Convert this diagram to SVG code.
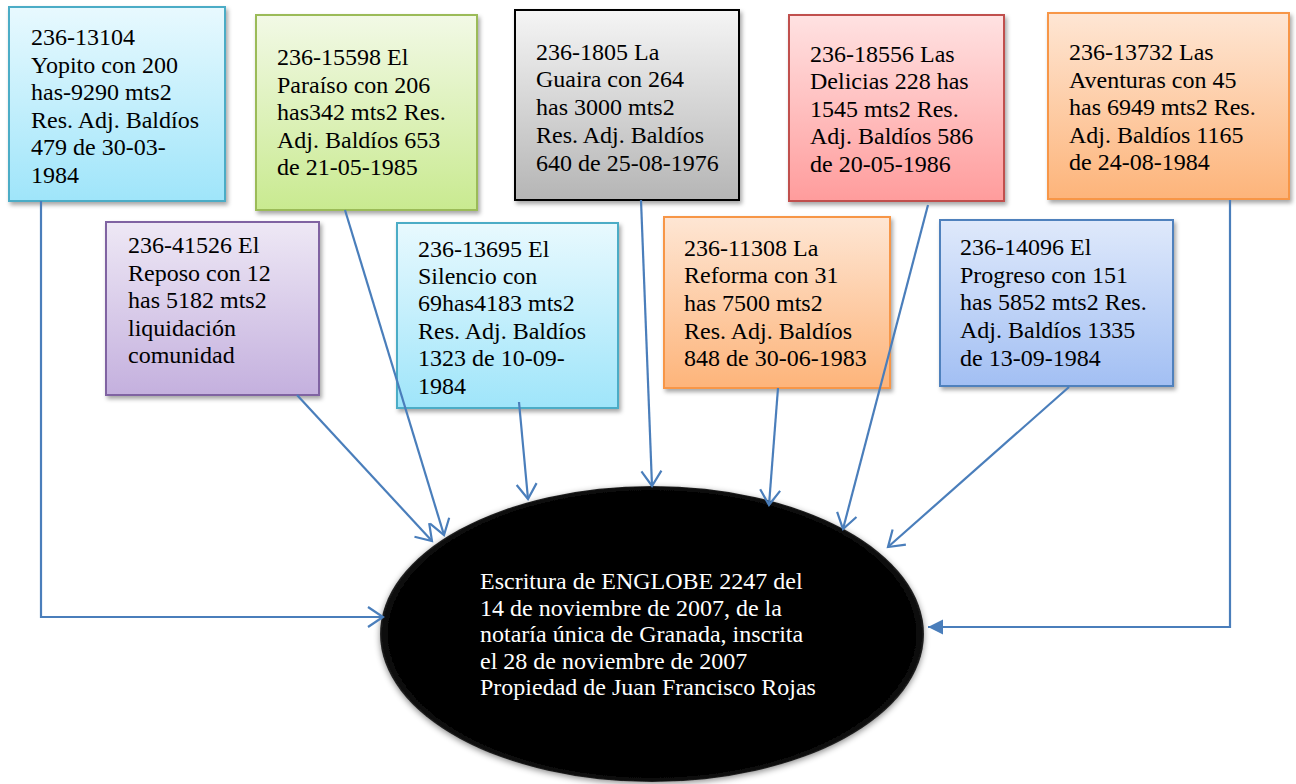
<svg xmlns="http://www.w3.org/2000/svg" width="1296" height="784" viewBox="0 0 1296 784">
<style>
.box{stroke-width:2}
.t{font-family:"Liberation Serif","Times New Roman",serif;font-size:24px;fill:#000}
.te{font-family:"Liberation Serif","Times New Roman",serif;font-size:24px;fill:#fff}
.c{fill:none;stroke:#4a7ebb;stroke-width:2.2}
</style>
<defs>
<filter id="sh" x="-10%" y="-10%" width="130%" height="130%">
<feDropShadow dx="2" dy="3" stdDeviation="2" flood-color="#000" flood-opacity="0.35"/>
</filter>
<filter id="esh" x="-10%" y="-10%" width="120%" height="120%">
<feDropShadow dx="0" dy="2" stdDeviation="3" flood-color="#000" flood-opacity="0.45"/>
</filter>
<linearGradient id="gCyan" x1="0" y1="0" x2="0" y2="1"><stop offset="0" stop-color="#e8f9fe"/><stop offset="1" stop-color="#9fe5fa"/></linearGradient>
<linearGradient id="gGreen" x1="0" y1="0" x2="0" y2="1"><stop offset="0" stop-color="#f2f9e6"/><stop offset="1" stop-color="#c9ea90"/></linearGradient>
<linearGradient id="gGray" x1="0" y1="0" x2="0" y2="1"><stop offset="0" stop-color="#f5f5f5"/><stop offset="1" stop-color="#b5b5b5"/></linearGradient>
<linearGradient id="gRed" x1="0" y1="0" x2="0" y2="1"><stop offset="0" stop-color="#ffe2e2"/><stop offset="1" stop-color="#ff9c9c"/></linearGradient>
<linearGradient id="gOrange" x1="0" y1="0" x2="0" y2="1"><stop offset="0" stop-color="#fee6d4"/><stop offset="1" stop-color="#fdb47a"/></linearGradient>
<linearGradient id="gPurple" x1="0" y1="0" x2="0" y2="1"><stop offset="0" stop-color="#eee8f5"/><stop offset="1" stop-color="#c4b0de"/></linearGradient>
<linearGradient id="gBlue" x1="0" y1="0" x2="0" y2="1"><stop offset="0" stop-color="#dfe9fb"/><stop offset="1" stop-color="#a2bff3"/></linearGradient>
<radialGradient id="gBlack" cx="0.5" cy="0.5" r="0.5"><stop offset="0.95" stop-color="#000"/><stop offset="0.99" stop-color="#0c0c0c"/><stop offset="1" stop-color="#262626"/></radialGradient>
<marker id="open" markerUnits="userSpaceOnUse" markerWidth="20" markerHeight="24" viewBox="-17 -12 20 24" refX="0" refY="0" orient="auto">
<path d="M-15,-10 L0,0 L-15,10" fill="none" stroke="#4a7ebb" stroke-width="2.2"/>
</marker>
<marker id="fill" markerUnits="userSpaceOnUse" markerWidth="20" markerHeight="20" viewBox="-16 -10 20 20" refX="0" refY="0" orient="auto">
<path d="M-15,-7.5 L0,0 L-15,7.5 Z" fill="#4a7ebb"/>
</marker>
</defs>
<rect width="1296" height="784" fill="#fff"/>

<g id="n-yopito">
<rect class="box" x="9" y="7" width="216" height="194" fill="url(#gCyan)" stroke="#4bacc6" filter="url(#sh)"/>
<text class="t" x="31" y="45"><tspan x="31">236-13104</tspan><tspan x="31" dy="27.5">Yopito con 200</tspan><tspan x="31" dy="27.5">has-9290 mts2</tspan><tspan x="31" dy="27.5">Res. Adj. Baldíos</tspan><tspan x="31" dy="27.5">479 de 30-03-</tspan><tspan x="31" dy="27.5">1984</tspan></text>
</g>
<g id="n-paraiso">
<rect class="box" x="256" y="15" width="221" height="195" fill="url(#gGreen)" stroke="#9bbb59" filter="url(#sh)"/>
<text class="t" x="277" y="65"><tspan x="277">236-15598 El</tspan><tspan x="277" dy="27.6">Paraíso con 206</tspan><tspan x="277" dy="27.6">has342 mts2 Res.</tspan><tspan x="277" dy="27.6">Adj. Baldíos 653</tspan><tspan x="277" dy="27.6">de 21-05-1985</tspan></text>
</g>
<g id="n-guaira">
<rect class="box" x="515" y="10" width="224" height="190" fill="url(#gGray)" stroke="#000" filter="url(#sh)"/>
<text class="t" x="536" y="59.5"><tspan x="536">236-1805 La</tspan><tspan x="536" dy="27.8">Guaira con 264</tspan><tspan x="536" dy="27.8">has 3000 mts2</tspan><tspan x="536" dy="27.8">Res. Adj. Baldíos</tspan><tspan x="536" dy="27.8">640 de 25-08-1976</tspan></text>
</g>
<g id="n-delicias">
<rect class="box" x="789" y="15" width="215" height="186" fill="url(#gRed)" stroke="#c0504d" filter="url(#sh)"/>
<text class="t" x="810" y="61.5"><tspan x="810">236-18556 Las</tspan><tspan x="810" dy="27.5">Delicias 228 has</tspan><tspan x="810" dy="27.5">1545 mts2 Res.</tspan><tspan x="810" dy="27.5">Adj. Baldíos 586</tspan><tspan x="810" dy="27.5">de 20-05-1986</tspan></text>
</g>
<g id="n-aventuras">
<rect class="box" x="1048" y="13" width="241" height="186" fill="url(#gOrange)" stroke="#f79646" filter="url(#sh)"/>
<text class="t" x="1069" y="60"><tspan x="1069">236-13732 Las</tspan><tspan x="1069" dy="27.6">Aventuras con 45</tspan><tspan x="1069" dy="27.6">has 6949 mts2 Res.</tspan><tspan x="1069" dy="27.6">Adj. Baldíos 1165</tspan><tspan x="1069" dy="27.6">de 24-08-1984</tspan></text>
</g>
<g id="n-reposo">
<rect class="box" x="106" y="222" width="213" height="173" fill="url(#gPurple)" stroke="#8064a2" filter="url(#sh)"/>
<text class="t" x="128" y="253"><tspan x="128">236-41526 El</tspan><tspan x="128" dy="27.6">Reposo con 12</tspan><tspan x="128" dy="27.6">has 5182 mts2</tspan><tspan x="128" dy="27.6">liquidación</tspan><tspan x="128" dy="27.6">comunidad</tspan></text>
</g>
<g id="n-silencio">
<rect class="box" x="397" y="223" width="221" height="185" fill="url(#gCyan)" stroke="#4bacc6" filter="url(#sh)"/>
<text class="t" x="418" y="256.5"><tspan x="418">236-13695 El</tspan><tspan x="418" dy="27.4">Silencio con</tspan><tspan x="418" dy="27.4">69has4183 mts2</tspan><tspan x="418" dy="27.4">Res. Adj. Baldíos</tspan><tspan x="418" dy="27.4">1323 de 10-09-</tspan><tspan x="418" dy="27.4">1984</tspan></text>
</g>
<g id="n-reforma">
<rect class="box" x="664" y="217" width="226" height="171" fill="url(#gOrange)" stroke="#f79646" filter="url(#sh)"/>
<text class="t" x="684" y="255.5"><tspan x="684">236-11308 La</tspan><tspan x="684" dy="27.7">Reforma con 31</tspan><tspan x="684" dy="27.7">has 7500 mts2</tspan><tspan x="684" dy="27.7">Res. Adj. Baldíos</tspan><tspan x="684" dy="27.7">848 de 30-06-1983</tspan></text>
</g>
<g id="n-progreso">
<rect class="box" x="940" y="220" width="233" height="166" fill="url(#gBlue)" stroke="#4f81bd" filter="url(#sh)"/>
<text class="t" x="960" y="255"><tspan x="960">236-14096 El</tspan><tspan x="960" dy="27.7">Progreso con 151</tspan><tspan x="960" dy="27.7">has 5852 mts2 Res.</tspan><tspan x="960" dy="27.7">Adj. Baldíos 1335</tspan><tspan x="960" dy="27.7">de 13-09-1984</tspan></text>
</g>
<g id="n-escritura">
<ellipse cx="652" cy="634" rx="272" ry="148" fill="url(#gBlack)" filter="url(#esh)"/>
<text class="te" x="480" y="589"><tspan x="480">Escritura de ENGLOBE 2247 del</tspan><tspan x="480" dy="26.5">14 de noviembre de 2007, de la</tspan><tspan x="480" dy="26.5">notaría única de Granada, inscrita</tspan><tspan x="480" dy="26.5">el 28 de noviembre de 2007</tspan><tspan x="480" dy="26.5">Propiedad de Juan Francisco Rojas</tspan></text>
</g>

<g id="connectors">
<polyline class="c" points="41,201 41,617 383,617" marker-end="url(#open)"/>
<polyline class="c" points="1230,200 1230,627 928,627" marker-end="url(#fill)"/>
<line class="c" x1="297" y1="395" x2="432" y2="541" marker-end="url(#open)"/>
<line class="c" x1="345" y1="210" x2="444" y2="535" marker-end="url(#open)"/>
<line class="c" x1="519" y1="402" x2="528" y2="499" marker-end="url(#open)"/>
<line class="c" x1="641" y1="200" x2="652" y2="486" marker-end="url(#open)"/>
<line class="c" x1="778" y1="388" x2="769" y2="505" marker-end="url(#open)"/>
<line class="c" x1="928" y1="205" x2="843" y2="529" marker-end="url(#open)"/>
<line class="c" x1="1069" y1="387" x2="888" y2="547" marker-end="url(#open)"/>
</g>
</svg>
